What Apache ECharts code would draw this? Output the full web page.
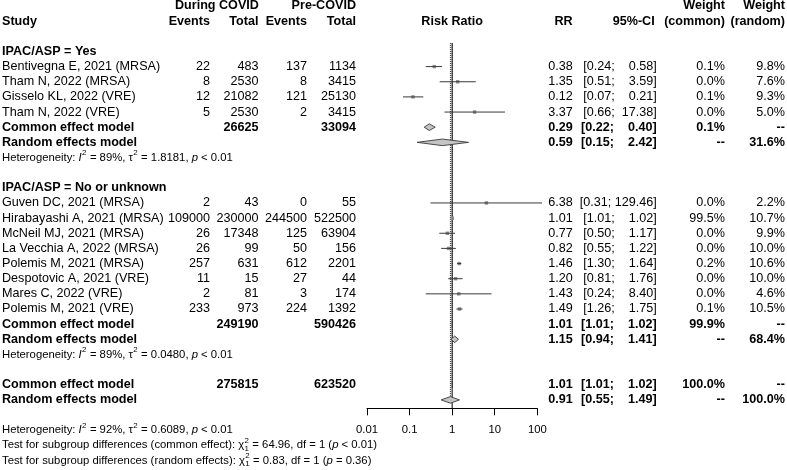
<!DOCTYPE html>
<html><head><meta charset="utf-8">
<script src="https://cdn.jsdelivr.net/npm/echarts@6/dist/echarts.min.js"></script>
<style>html,body{margin:0;padding:0;background:#fff}#c{width:787px;height:470px}</style>
</head><body><div id="c"></div>
<script>
// ---------------- data ----------------
const groupLabels = ['IPAC/ASP = Yes', 'IPAC/ASP = No or unknown'];
const studyLabels = [
  'Bentivegna E, 2021 (MRSA)', 'Tham N, 2022 (MRSA)', 'Gisselo KL, 2022 (VRE)', 'Tham N, 2022 (VRE)',
  'Guven DC, 2021 (MRSA)', 'Hirabayashi A, 2021 (MRSA)', 'McNeil MJ, 2021 (MRSA)', 'La Vecchia A, 2022 (MRSA)',
  'Polemis M, 2021 (MRSA)', 'Despotovic A, 2021 (VRE)', 'Mares C, 2022 (VRE)', 'Polemis M, 2021 (VRE)'
];
const studyGroup  = [0, 0, 0, 0, 1, 1, 1, 1, 1, 1, 1, 1];
const eventsCovid = [22, 8, 12, 5, 2, 109000, 26, 26, 257, 11, 2, 233];
const totalCovid  = [483, 2530, 21082, 2530, 43, 230000, 17348, 99, 631, 15, 81, 973];
const eventsPre   = [137, 8, 121, 2, 0, 244500, 125, 50, 612, 27, 3, 224];
const totalPre    = [1134, 3415, 25130, 3415, 55, 522500, 63904, 156, 2201, 44, 174, 1392];
const rr          = [0.38, 1.35, 0.12, 3.37, 6.38, 1.01, 0.77, 0.82, 1.46, 1.20, 1.43, 1.49];
const rrLower     = [0.24, 0.51, 0.07, 0.66, 0.31, 1.01, 0.50, 0.55, 1.30, 0.81, 0.24, 1.26];
const rrUpper     = [0.58, 3.59, 0.21, 17.38, 129.46, 1.02, 1.17, 1.22, 1.64, 1.76, 8.40, 1.75];
const weightCommon = ['0.1%', '0.0%', '0.1%', '0.0%', '0.0%', '99.5%', '0.0%', '0.0%', '0.2%', '0.0%', '0.0%', '0.1%'];
const weightRandom = ['9.8%', '7.6%', '9.3%', '5.0%', '2.2%', '10.7%', '9.9%', '10.0%', '10.6%', '10.0%', '4.6%', '10.5%'];

// pooled: index 0 = group 1, 1 = group 2, 2 = overall
const pooledTotalCovid = [26625, 249190, 275815];
const pooledTotalPre   = [33094, 590426, 623520];
const commonEst   = [0.29, 1.01, 1.01];
const commonLower = [0.22, 1.01, 1.01];
const commonUpper = [0.40, 1.02, 1.02];
const commonWeight = ['0.1%', '99.9%', '100.0%'];
const randomEst   = [0.59, 1.15, 0.91];
const randomLower = [0.15, 0.94, 0.55];
const randomUpper = [2.42, 1.41, 1.49];
const randomWeight = ['31.6%', '68.4%', '100.0%'];
const hetI2   = ['89%', '89%', '92%'];
const hetTau2 = ['1.8181', '0.0480', '0.6089'];
const hetP    = ['< 0.01', '< 0.01', '< 0.01'];
const testLabels = ['common effect', 'random effects'];
const testChi2   = ['64.96', '0.83'];
const testDf     = ['1', '1'];
const testP      = ['< 0.01', '= 0.36'];
const tickValues = [0.01, 0.1, 1, 10, 100];
const tickLabels = ['0.01', '0.1', '1', '10', '100'];

// ---------------- layout ----------------
const FONT = 'Liberation Sans, Arial, Helvetica, sans-serif';
const FS = 12.6, FS_SMALL = 11.3;
const ROW0 = 6, ROWH = 15.15, H = 470;
const COL = {study: 2, evC: 210, totC: 258.4, evP: 307, totP: 356, rr: 572.7, ci: 656.7, wc: 725, wr: 785};
const PLOT_LEFT = 367, PLOT_WIDTH = 170.3, AXIS_Y = 408.3;

const measureCtx = document.createElement('canvas').getContext('2d');
function textWidth(t, size, italic, bold) {
  measureCtx.font = (italic ? 'italic ' : '') + (bold ? 'bold ' : '') + size + 'px ' + FONT;
  return measureCtx.measureText(t).width;
}
function fmtCI(lo, up) {
  const u = up.toFixed(2);
  const pad = {4: '    ', 5: '  ', 6: ' '}[u.length] || ' ';
  return '[' + lo.toFixed(2) + ';' + pad + u + ']';
}

// build table rows
const cells = [];
function add(row, x, text, align, bold) { cells.push({row, x, text: String(text), align, bold}); }
function addSeg(row, x, segments) { cells.push({row, x, segments}); }

// headers
add(0, COL.totC + 0.5, 'During COVID', 'right', true);
add(0, COL.totP, 'Pre-COVID', 'right', true);
add(0, COL.wc, 'Weight', 'right', true);
add(0, COL.wr, 'Weight', 'right', true);
add(1, COL.study, 'Study', 'left', true);
add(1, COL.evC, 'Events', 'right', true);
add(1, COL.totC, 'Total', 'right', true);
add(1, COL.evP, 'Events', 'right', true);
add(1, COL.totP, 'Total', 'right', true);
add(1, 'center', 'Risk Ratio', 'center', true);
add(1, COL.rr, 'RR', 'right', true);
add(1, COL.ci - 2, '95%-CI', 'right', true);
add(1, COL.wc, '(common)', 'right', true);
add(1, COL.wr, '(random)', 'right', true);

const studyRows = [];
const pooledRows = {common: [], random: []};
let r = 3;
function hetSegs(i) {
  return [['Heterogeneity: ', 'n'], ['I', 'i'], ['2', 'sup'], [' = ' + hetI2[i] + ', ', 'n'], ['\u03c4', 'n'], ['2', 'sup'],
          [' = ' + hetTau2[i] + ', ', 'n'], ['p', 'i'], [' ' + hetP[i], 'n']];
}
function addPooled(g, row) {
  add(row, COL.study, 'Common effect model', 'left', true);
  add(row, COL.totC, pooledTotalCovid[g], 'right', true);
  add(row, COL.totP, pooledTotalPre[g], 'right', true);
  add(row, COL.rr, commonEst[g].toFixed(2), 'right', true);
  add(row, COL.ci, fmtCI(commonLower[g], commonUpper[g]), 'right', true);
  add(row, COL.wc, commonWeight[g], 'right', true);
  add(row, COL.wr, '--', 'right', true);
  pooledRows.common.push(row);
  add(row + 1, COL.study, 'Random effects model', 'left', true);
  add(row + 1, COL.rr, randomEst[g].toFixed(2), 'right', true);
  add(row + 1, COL.ci, fmtCI(randomLower[g], randomUpper[g]), 'right', true);
  add(row + 1, COL.wc, '--', 'right', true);
  add(row + 1, COL.wr, randomWeight[g], 'right', true);
  pooledRows.random.push(row + 1);
}
for (let g = 0; g < groupLabels.length; g++) {
  add(r, COL.study, groupLabels[g], 'left', true);
  r++;
  for (let i = 0; i < studyLabels.length; i++) {
    if (studyGroup[i] !== g) continue;
    add(r, COL.study, studyLabels[i], 'left', false);
    add(r, COL.evC, eventsCovid[i], 'right', false);
    add(r, COL.totC, totalCovid[i], 'right', false);
    add(r, COL.evP, eventsPre[i], 'right', false);
    add(r, COL.totP, totalPre[i], 'right', false);
    add(r, COL.rr, rr[i].toFixed(2), 'right', false);
    add(r, COL.ci, fmtCI(rrLower[i], rrUpper[i]), 'right', false);
    add(r, COL.wc, weightCommon[i], 'right', false);
    add(r, COL.wr, weightRandom[i], 'right', false);
    studyRows[i] = r;
    r++;
  }
  addPooled(g, r);
  r += 2;
  addSeg(r, COL.study, hetSegs(g));
  r += 2;
}
addPooled(2, r);
const overallRandomRow = r + 1;
r += 3;
addSeg(r, COL.study, hetSegs(2));
for (let t = 0; t < testLabels.length; t++) {
  addSeg(r + 1 + t, COL.study, [
    ['Test for subgroup differences (' + testLabels[t] + '): ', 'n'], ['\u03c7', 'n'], [['2', '1'], 'supsub'],
    [' = ' + testChi2[t] + ', df = ' + testDf[t] + ' (', 'n'], ['p', 'i'], [' ' + testP[t] + ')', 'n']
  ]);
}

const REF_TOP = 2.45;
const studyData = rr.map((v, i) => [v, rrLower[i], rrUpper[i], studyRows[i]]);
const diamondData = [];
for (let g = 0; g < 3; g++) {
  diamondData.push([commonEst[g], commonLower[g], commonUpper[g], pooledRows.common[g]]);
  diamondData.push([randomEst[g], randomLower[g], randomUpper[g], pooledRows.random[g]]);
}
const axisRow = (AXIS_Y - ROW0) / ROWH;
const refData = [
  [1, REF_TOP, axisRow, 0],
  [randomEst[2], REF_TOP, overallRandomRow - 0.28, 1],
  [commonEst[2], REF_TOP, overallRandomRow - 1, 1]
];

function txt(t, x, y, size, opts) {
  opts = opts || {};
  return {type: 'text', x: x, y: y, silent: true, style: {
    text: t, fill: '#000', fontFamily: FONT, fontSize: size,
    fontWeight: opts.bold ? 'bold' : 'normal', fontStyle: opts.italic ? 'italic' : 'normal',
    align: opts.align || 'left', verticalAlign: 'middle'
  }};
}

const chart = echarts.init(document.getElementById('c'), null, {renderer: 'canvas'});
const logAxisBase = {type: 'log', logBase: 10, min: tickValues[0], max: tickValues[tickValues.length - 1]};
chart.setOption({
  animation: false,
  backgroundColor: '#fff',
  grid: [
    {left: PLOT_LEFT, width: PLOT_WIDTH, top: 0, height: H},
    {left: PLOT_LEFT, width: PLOT_WIDTH, top: 0, height: AXIS_Y}
  ],
  xAxis: [
    Object.assign({gridIndex: 0, show: false}, logAxisBase),
    Object.assign({gridIndex: 1, position: 'bottom',
      axisLine: {show: true, lineStyle: {color: '#000', width: 1}},
      axisTick: {show: true, inside: false, length: 7, lineStyle: {color: '#000', width: 1}},
      splitLine: {show: false},
      axisLabel: {show: true, color: '#000', fontFamily: FONT, fontSize: FS_SMALL, margin: 16.5,
        formatter: function (v) {
          for (let k = 0; k < tickValues.length; k++) {
            if (Math.abs(Math.log10(v) - Math.log10(tickValues[k])) < 1e-6) return tickLabels[k];
          }
          return '';
        }}
    }, logAxisBase)
  ],
  yAxis: [
    {gridIndex: 0, type: 'value', inverse: true, show: false, min: -ROW0 / ROWH, max: (H - ROW0) / ROWH},
    {gridIndex: 1, type: 'value', show: false, min: 0, max: 1}
  ],
  series: [
    {
      type: 'custom', name: 'reference', xAxisIndex: 0, yAxisIndex: 0, clip: false, silent: true, z: 2,
      data: refData,
      renderItem: function (params, api) {
        const x = api.coord([api.value(0), 1])[0];
        const y1 = api.coord([1, api.value(1)])[1];
        const y2 = api.coord([1, api.value(2)])[1];
        const dotted = api.value(3) === 1;
        return {type: 'line', shape: {x1: x, y1: y1, x2: x, y2: y2},
          style: {stroke: dotted ? '#222' : '#000', lineWidth: 1, lineDash: dotted ? [1, 1] : null}};
      }
    },
    {
      type: 'custom', name: 'studies', xAxisIndex: 0, yAxisIndex: 0, clip: false, silent: true, z: 3,
      data: studyData,
      renderItem: function (params, api) {
        const y = api.coord([1, api.value(3)])[1];
        const xc = api.coord([api.value(0), api.value(3)])[0];
        const xl = api.coord([api.value(1), api.value(3)])[0];
        const xr = api.coord([api.value(2), api.value(3)])[0];
        const s = 3.4;
        return {type: 'group', children: [
          {type: 'rect', shape: {x: xc - s / 2, y: y - s / 2, width: s, height: s}, style: {fill: '#8c8c8c'}},
          {type: 'line', shape: {x1: xl, y1: y, x2: xr, y2: y}, style: {stroke: '#3a3a3a', lineWidth: 1}}
        ]};
      }
    },
    {
      type: 'custom', name: 'pooled', xAxisIndex: 0, yAxisIndex: 0, clip: false, silent: true, z: 3,
      data: diamondData,
      renderItem: function (params, api) {
        const y = api.coord([1, api.value(3)])[1];
        const xc = api.coord([api.value(0), api.value(3)])[0];
        const xl = api.coord([api.value(1), api.value(3)])[0];
        const xr = api.coord([api.value(2), api.value(3)])[0];
        const h = 3.3;
        return {type: 'polygon', shape: {points: [[xl, y], [xc, y - h], [xr, y], [xc, y + h]]},
          style: {fill: '#c4c4c4', stroke: '#3a3a3a', lineWidth: 0.9}};
      }
    },
    {
      type: 'custom', name: 'table', xAxisIndex: 0, yAxisIndex: 0, clip: false, silent: true, z: 4,
      data: cells.map(c => [1, c.row]),
      renderItem: function (params, api) {
        const c = cells[params.dataIndex];
        const y = api.coord([1, c.row])[1];
        if (c.segments) {
          let x = c.x;
          const kids = [];
          const ss = FS_SMALL * 0.7;
          c.segments.forEach(function (seg) {
            const t = seg[0], kind = seg[1];
            if (kind === 'supsub') {
              kids.push(txt(t[0], x + 0.3, y - 4.5, ss));
              kids.push(txt(t[1], x + 0.3, y + 3.4, ss));
              x += Math.max(textWidth(t[0], ss), textWidth(t[1], ss)) + 0.6;
            } else if (kind === 'sup') {
              kids.push(txt(t, x + 0.3, y - 4.5, ss));
              x += textWidth(t, ss) + 0.6;
            } else {
              const it = kind === 'i';
              kids.push(txt(t, x, y, FS_SMALL, {italic: it}));
              x += textWidth(t, FS_SMALL, it, false);
            }
          });
          return {type: 'group', children: kids};
        }
        let x = c.x;
        if (x === 'center') {
          const cs = params.coordSys;
          x = cs.x + cs.width / 2;
        }
        return txt(c.text, x, y, FS, {bold: c.bold, align: c.align});
      }
    }
  ]
});
</script>
</body></html>
